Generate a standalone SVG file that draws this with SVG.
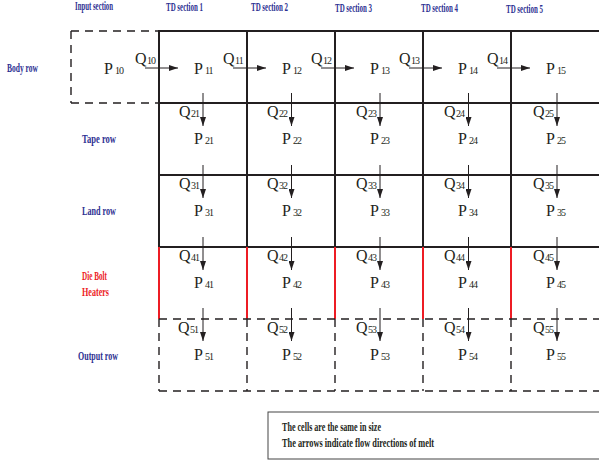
<svg xmlns="http://www.w3.org/2000/svg" width="599" height="466" viewBox="0 0 599 466">
<style>
.hdr{font-family:"Liberation Serif",serif;font-weight:bold;font-size:12px;fill:#2e3192}
.red{fill:#ed1c24}
.p{font-family:"Liberation Serif",serif;font-size:16px;fill:#231f20}
.q{font-family:"Liberation Serif",serif;font-size:16px;fill:#231f20}
.sub{font-size:10px;letter-spacing:-1px}
.solid{stroke:#231f20;stroke-width:2;fill:none}
.dash{stroke:#231f20;stroke-width:1.4;stroke-dasharray:8 6;fill:none}
.redl{stroke:#ed1c24;stroke-width:2;fill:none}
.arr{stroke:#231f20;stroke-width:1;fill:none;marker-end:url(#ah)}
.leg{font-family:"Liberation Serif",serif;font-weight:bold;font-size:12px;fill:#231f20}
</style>
<defs>
<marker id="ah" markerUnits="userSpaceOnUse" markerWidth="10" markerHeight="6" refX="9" refY="3" orient="auto">
<path d="M0,0 L9,3 L0,6 z" fill="#231f20"/>
</marker>
</defs>
<rect width="599" height="466" fill="#fff"/>

<g id="headers">
<text class="hdr" x="75" y="10" textLength="38" lengthAdjust="spacingAndGlyphs">Input section</text>
<text class="hdr" x="166" y="11" textLength="37" lengthAdjust="spacingAndGlyphs">TD section 1</text>
<text class="hdr" x="251" y="11" textLength="37" lengthAdjust="spacingAndGlyphs">TD section 2</text>
<text class="hdr" x="335" y="12" textLength="37" lengthAdjust="spacingAndGlyphs">TD section 3</text>
<text class="hdr" x="421" y="12" textLength="37" lengthAdjust="spacingAndGlyphs">TD section 4</text>
<text class="hdr" x="506" y="13" textLength="37" lengthAdjust="spacingAndGlyphs">TD section 5</text>
</g>

<g id="row-labels">
<text class="hdr" x="7" y="72" textLength="31" lengthAdjust="spacingAndGlyphs">Body row</text>
<text class="hdr" x="82" y="143" textLength="34" lengthAdjust="spacingAndGlyphs">Tape row</text>
<text class="hdr" x="82" y="215" textLength="34" lengthAdjust="spacingAndGlyphs">Land row</text>
<text class="hdr red" x="82" y="280" textLength="25" lengthAdjust="spacingAndGlyphs">Die Bolt</text>
<text class="hdr red" x="82" y="296" textLength="27" lengthAdjust="spacingAndGlyphs">Heaters</text>
<text class="hdr" x="78" y="360" textLength="40" lengthAdjust="spacingAndGlyphs">Output row</text>
</g>

<g id="grid">
<path class="dash" d="M71,31 H159 M71,31 V103 M71,103 H159"/>
<path class="solid" d="M159,31 H600 M159,103 H600 M159,175 H600 M159,247 H600"/>
<path class="solid" d="M159,30 V247 M247,30 V247 M335,30 V247 M423,30 V247 M511,30 V247"/>
<path class="redl" d="M159,247 V319 M247,247 V319 M335,247 V319 M423,247 V319 M511,247 V319"/>
<path class="dash" d="M159,319 H600 M159,391 H600 M159,319 V391 M247,319 V391 M335,319 V391 M423,319 V391 M511,319 V391"/>
</g>

<g id="cell-10"><text class="p" x="104" y="74">P<tspan class="sub" dx="2">10</tspan></text></g>
<g id="cell-11"><text class="p" x="194" y="74">P<tspan class="sub" dx="2">11</tspan></text></g>
<g id="cell-12"><text class="p" x="282" y="74">P<tspan class="sub" dx="2">12</tspan></text></g>
<g id="cell-13"><text class="p" x="370" y="74">P<tspan class="sub" dx="2">13</tspan></text></g>
<g id="cell-14"><text class="p" x="458" y="74">P<tspan class="sub" dx="2">14</tspan></text></g>
<g id="cell-15"><text class="p" x="546" y="74">P<tspan class="sub" dx="2">15</tspan></text></g>

<g id="cell-21"><text class="p" x="194" y="144">P<tspan class="sub" dx="2">21</tspan></text></g>
<g id="cell-22"><text class="p" x="282" y="144">P<tspan class="sub" dx="2">22</tspan></text></g>
<g id="cell-23"><text class="p" x="370" y="144">P<tspan class="sub" dx="2">23</tspan></text></g>
<g id="cell-24"><text class="p" x="458" y="144">P<tspan class="sub" dx="2">24</tspan></text></g>
<g id="cell-25"><text class="p" x="546" y="144">P<tspan class="sub" dx="2">25</tspan></text></g>

<g id="cell-31"><text class="p" x="194" y="216">P<tspan class="sub" dx="2">31</tspan></text></g>
<g id="cell-32"><text class="p" x="282" y="216">P<tspan class="sub" dx="2">32</tspan></text></g>
<g id="cell-33"><text class="p" x="370" y="216">P<tspan class="sub" dx="2">33</tspan></text></g>
<g id="cell-34"><text class="p" x="458" y="216">P<tspan class="sub" dx="2">34</tspan></text></g>
<g id="cell-35"><text class="p" x="546" y="216">P<tspan class="sub" dx="2">35</tspan></text></g>

<g id="cell-41"><text class="p red" x="194" y="288">P<tspan class="sub" dx="2">41</tspan></text></g>
<g id="cell-42"><text class="p red" x="282" y="288">P<tspan class="sub" dx="2">42</tspan></text></g>
<g id="cell-43"><text class="p red" x="370" y="288">P<tspan class="sub" dx="2">43</tspan></text></g>
<g id="cell-44"><text class="p red" x="458" y="288">P<tspan class="sub" dx="2">44</tspan></text></g>
<g id="cell-45"><text class="p red" x="546" y="288">P<tspan class="sub" dx="2">45</tspan></text></g>

<g id="cell-51"><text class="p" x="194" y="360">P<tspan class="sub" dx="2">51</tspan></text></g>
<g id="cell-52"><text class="p" x="282" y="360">P<tspan class="sub" dx="2">52</tspan></text></g>
<g id="cell-53"><text class="p" x="370" y="360">P<tspan class="sub" dx="2">53</tspan></text></g>
<g id="cell-54"><text class="p" x="458" y="360">P<tspan class="sub" dx="2">54</tspan></text></g>
<g id="cell-55"><text class="p" x="546" y="360">P<tspan class="sub" dx="2">55</tspan></text></g>

<g id="connectors">
<path class="arr" d="M145,68 H178"/>
<path class="arr" d="M233,68 H266"/>
<path class="arr" d="M321,68 H354"/>
<path class="arr" d="M409,68 H442"/>
<path class="arr" d="M497,68 H530"/>
<text class="q" x="135" y="64">Q<tspan class="sub" dx="0.5">10</tspan></text>
<text class="q" x="223" y="64">Q<tspan class="sub" dx="0.5">11</tspan></text>
<text class="q" x="311" y="64">Q<tspan class="sub" dx="0.5">12</tspan></text>
<text class="q" x="399" y="64">Q<tspan class="sub" dx="0.5">13</tspan></text>
<text class="q" x="487" y="64">Q<tspan class="sub" dx="0.5">14</tspan></text>

<path class="arr" d="M203,93 V126"/>
<path class="arr" d="M291.5,93 V126"/>
<path class="arr" d="M380,93 V126"/>
<path class="arr" d="M468.5,93 V126"/>
<path class="arr" d="M557,93 V126"/>
<text class="q" x="179" y="117">Q<tspan class="sub" dx="0.5">21</tspan></text>
<text class="q" x="267" y="117">Q<tspan class="sub" dx="0.5">22</tspan></text>
<text class="q" x="356" y="117">Q<tspan class="sub" dx="0.5">23</tspan></text>
<text class="q" x="444" y="117">Q<tspan class="sub" dx="0.5">24</tspan></text>
<text class="q" x="533" y="117">Q<tspan class="sub" dx="0.5">25</tspan></text>

<path class="arr" d="M203,165 V198"/>
<path class="arr" d="M291.5,165 V198"/>
<path class="arr" d="M380,165 V198"/>
<path class="arr" d="M468.5,165 V198"/>
<path class="arr" d="M557,165 V198"/>
<text class="q" x="179" y="189">Q<tspan class="sub" dx="0.5">31</tspan></text>
<text class="q" x="267" y="189">Q<tspan class="sub" dx="0.5">32</tspan></text>
<text class="q" x="356" y="189">Q<tspan class="sub" dx="0.5">33</tspan></text>
<text class="q" x="444" y="189">Q<tspan class="sub" dx="0.5">34</tspan></text>
<text class="q" x="533" y="189">Q<tspan class="sub" dx="0.5">35</tspan></text>

<path class="arr" d="M203,237 V270"/>
<path class="arr" d="M291.5,237 V270"/>
<path class="arr" d="M380,237 V270"/>
<path class="arr" d="M468.5,237 V270"/>
<path class="arr" d="M557,237 V270"/>
<text class="q" x="179" y="261">Q<tspan class="sub" dx="0.5">41</tspan></text>
<text class="q" x="267" y="261">Q<tspan class="sub" dx="0.5">42</tspan></text>
<text class="q" x="356" y="261">Q<tspan class="sub" dx="0.5">43</tspan></text>
<text class="q" x="444" y="261">Q<tspan class="sub" dx="0.5">44</tspan></text>
<text class="q" x="533" y="261">Q<tspan class="sub" dx="0.5">45</tspan></text>

<path class="arr" d="M203,308 V341"/>
<path class="arr" d="M291.5,308 V341"/>
<path class="arr" d="M380,308 V341"/>
<path class="arr" d="M468.5,308 V341"/>
<path class="arr" d="M557,308 V341"/>
<text class="q" x="178" y="333">Q<tspan class="sub" dx="0.5">51</tspan></text>
<text class="q" x="267" y="333">Q<tspan class="sub" dx="0.5">52</tspan></text>
<text class="q" x="356" y="333">Q<tspan class="sub" dx="0.5">53</tspan></text>
<text class="q" x="444" y="333">Q<tspan class="sub" dx="0.5">54</tspan></text>
<text class="q" x="533" y="333">Q<tspan class="sub" dx="0.5">55</tspan></text>
</g>

<g id="legend">
<rect x="268" y="412" width="340" height="47" fill="none" stroke="#444" stroke-width="1"/>
<text class="leg" x="282" y="431" textLength="99" lengthAdjust="spacingAndGlyphs">The cells are the same in size</text>
<text class="leg" x="282" y="447" textLength="152" lengthAdjust="spacingAndGlyphs">The arrows indicate flow directions of melt</text>
</g>
</svg>
